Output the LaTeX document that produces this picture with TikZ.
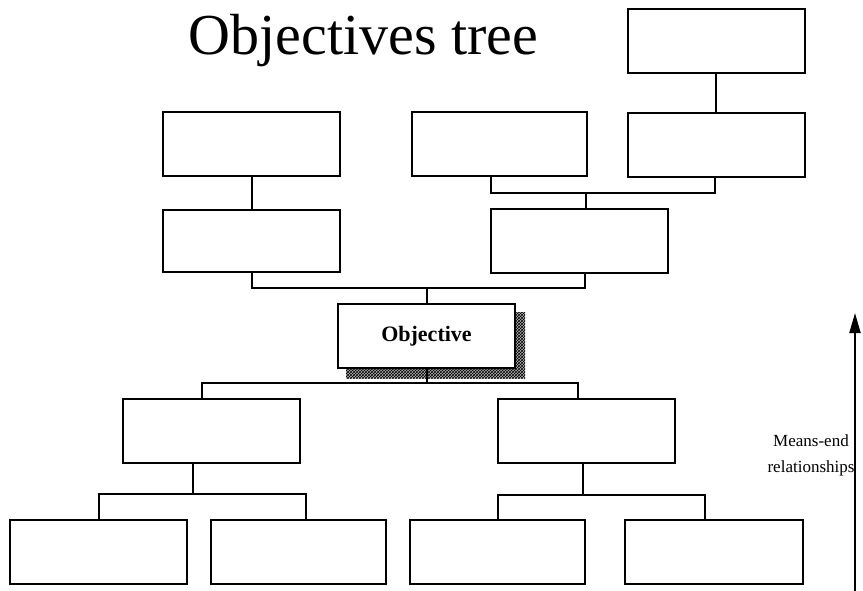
\documentclass[tikz,border=0pt]{standalone}
\usepackage{fontspec}
\setmainfont{Liberation Serif}
\usetikzlibrary{arrows.meta,patterns,backgrounds}
\begin{document}
\begin{tikzpicture}[x=1pt,y=-1pt,
  box/.style={draw=black, line width=2pt, fill=white, minimum width=177pt, minimum height=64pt, inner sep=0pt},
  conn/.style={draw=black, line width=2pt, line join=miter},
  titlefont/.style={font=\fontsize{58}{66}\selectfont},
  labelfont/.style={font=\fontsize{17}{26}\selectfont}]
\useasboundingbox (0,0) rectangle (863,591);
% title
\node[titlefont, anchor=base, inner sep=0pt] (title) at (363.5,55) {Objectives tree};
% boxes
\node[box] (T)   at (716,41.5) {};
\node[box] (R2a) at (251.5,144.5) {};
\node[box, minimum width=175pt] (R2b) at (499.5,144.5) {};
\node[box] (R2c) at (716,145) {};
\node[box, minimum height=62pt] (R3a) at (251.5,241) {};
\node[box] (R3b) at (579.5,241) {};
\node[box, font=\fontsize{22}{26}\selectfont\bfseries] (Obj) at (426.5,336) {Objective};
\node[box] (R5a) at (211.5,430.5) {};
\node[box] (R5b) at (586.5,431) {};
\node[box] (R6a) at (98.5,551.5) {};
\node[box, minimum width=175pt] (R6b) at (298.5,551.5) {};
\node[box, minimum width=175pt] (R6c) at (497.5,552) {};
\node[box, minimum width=178pt] (R6d) at (714,552) {};
% shadow of objective
\begin{scope}[on background layer]
  \fill[gray!60] ([shift={(9,9)}]Obj.north west) rectangle ([shift={(9,9)}]Obj.south east);
  \fill[pattern=crosshatch, pattern color=black] ([shift={(9,9)}]Obj.north west) rectangle ([shift={(9,9)}]Obj.south east);
\end{scope}
% junction coordinates
\coordinate (a1) at (491,193);
\coordinate (a2) at (715,193);
\coordinate (a3) at (586,193);
\coordinate (b1) at (251.5,288);
\coordinate (b2) at (585,288);
\coordinate (b3) at (426.5,288);
\coordinate (c1) at (202,383);
\coordinate (c2) at (578,383);
\coordinate (c3) at (426.5,383);
\coordinate (d1) at (98.5,494);
\coordinate (d2) at (306,494);
\coordinate (d3) at (193,494);
\coordinate (e1) at (497.5,495);
\coordinate (e2) at (705,495);
\coordinate (e3) at (583,495);
% connectors
\draw[conn] (T) -- (R2c);
\draw[conn] (R2b.south -| a1) -- (a1) -- (a2) -- (R2c.south -| a2);
\draw[conn] (a3) -- (R3b.north -| a3);
\draw[conn] (R2a) -- (R3a);
\draw[conn] (R3a.south -| b1) -- (b1) -- (b2) -- (R3b.south -| b2);
\draw[conn] (b3) -- (Obj.north -| b3);
\draw[conn] (Obj.south -| c3) -- (c3);
\draw[conn] (R5a.north -| c1) -- (c1) -- (c2) -- (R5b.north -| c2);
\draw[conn] (R5a.south -| d3) -- (d3);
\draw[conn] (R6a.north -| d1) -- (d1) -- (d2) -- (R6b.north -| d2);
\draw[conn] (R5b.south -| e3) -- (e3);
\draw[conn] (R6c.north -| e1) -- (e1) -- (e2) -- (R6d.north -| e2);
% means-end arrow
\coordinate (abot) at (855,591);
\coordinate (atop) at (855,313);
\draw[line width=2pt, -{Triangle[length=20pt,width=11pt]}] (abot) -- (atop);
\node[labelfont, align=center, inner sep=0pt] (lbl) at (811,455) {Means-end\\relationships};
\end{tikzpicture}
\end{document}
